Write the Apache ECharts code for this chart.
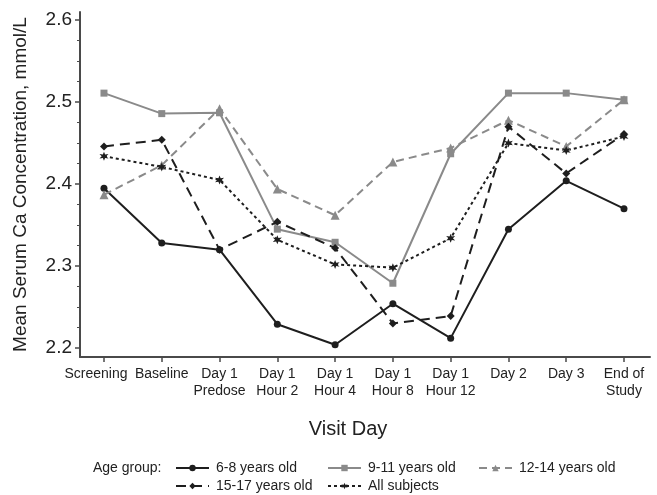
<!DOCTYPE html>
<html>
<head>
<meta charset="utf-8">
<script src="https://cdn.jsdelivr.net/npm/echarts@6/dist/echarts.min.js"></script>
<style>
  html, body { margin: 0; padding: 0; background: #fff; }
  #chart { width: 657px; height: 495px; }
</style>
</head>
<body>
<div id="chart"></div>
<script>
  // visit days (x categories)
  var visitDays = ['Screening', 'Baseline', 'Day 1\nPredose', 'Day 1\nHour 2', 'Day 1\nHour 4',
    'Day 1\nHour 8', 'Day 1\nHour 12', 'Day 2', 'Day 3', 'End of\nStudy']
  // mean serum Ca, mmol/L, per age group
  var age6to8 = [2.395, 2.328, 2.320, 2.229, 2.204, 2.254, 2.212, 2.345, 2.404, 2.370]
  var age9to11 = [2.511, 2.486, 2.487, 2.345, 2.329, 2.279, 2.437, 2.511, 2.511, 2.503]
  var age12to14 = [2.387, 2.423, 2.492, 2.394, 2.362, 2.427, 2.444, 2.478, 2.446, 2.503]
  var age15to17 = [2.446, 2.454, 2.320, 2.354, 2.322, 2.230, 2.239, 2.470, 2.413, 2.461]
  var allSubjects = [2.434, 2.421, 2.405, 2.332, 2.302, 2.298, 2.334, 2.450, 2.441, 2.458]
  var yTicks = [2.2, 2.3, 2.4, 2.5, 2.6]
  var yMinorTicks = [2.225, 2.25, 2.275, 2.325, 2.35, 2.375, 2.425, 2.45, 2.475, 2.525, 2.55, 2.575]

  var black = '#1e1e1e'
  var grey = '#8a8a8a'
  var axisColor = '#4a4a4a'
  var font = 'Liberation Sans, Arial, sans-serif'
  var starPath = 'path://M0,-10L2.2,-3.8L8.7,-5L4.4,0L8.7,5L2.2,3.8L0,10L-2.2,3.8L-8.7,5L-4.4,0L-8.7,-5L-2.2,-3.8Z'

  function pts (arr) {
    return arr.map(function (v, i) { return [i, v] })
  }

  var xIdx = visitDays.map(function (d, i) { return i })
  // labels split over two axes so the tight neighbours are not dropped
  var xEven = xIdx.filter(function (i) { return i % 2 === 0 })
  var xOdd = xIdx.filter(function (i) { return i % 2 === 1 })

  function lineSeries (name, data, color, type, symbol, size) {
    return {
      name: name,
      type: 'line',
      data: pts(data),
      symbol: symbol,
      symbolSize: size,
      lineStyle: { color: color, width: 2, type: type },
      itemStyle: { color: color },
      emphasis: { disabled: true }
    }
  }

  function legendAt (name, left, top) {
    return {
      data: [name],
      left: left,
      top: top,
      itemWidth: 33,
      itemHeight: 8,
      itemGap: 0,
      padding: 0,
      textStyle: { fontSize: 14, color: '#222', fontFamily: font, padding: [0, 0, 0, 2] }
    }
  }

  function xLabels (values) {
    return {
      customValues: values,
      hideOverlap: false,
      showMinLabel: true,
      showMaxLabel: true,
      margin: 9,
      fontSize: 14,
      lineHeight: 17,
      color: '#222',
      fontFamily: font,
      formatter: function (v) {
        var i = Math.round(v)
        // the first label sits a little left of its tick in the original
        return i === 0 ? '{first|' + visitDays[i] + '}' : visitDays[i]
      },
      rich: {
        first: { fontSize: 14, color: '#222', fontFamily: font, padding: [0, 16, 0, 0] }
      }
    }
  }

  var option = {
    animation: false,
    backgroundColor: '#fff',
    grid: { left: 80, right: 7, top: 12, bottom: 138 },
    xAxis: [{
      type: 'value',
      min: -0.415,
      max: 9.45,
      axisLine: { onZero: false, lineStyle: { color: axisColor, width: 2 } },
      axisTick: { customValues: xIdx, length: 5, lineStyle: { color: axisColor, width: 1.5 } },
      axisLabel: xLabels(xEven),
      splitLine: { show: false }
    }, {
      type: 'value',
      position: 'bottom',
      offset: 0,
      min: -0.415,
      max: 9.45,
      axisLine: { show: false, onZero: false },
      axisTick: { show: false },
      axisLabel: xLabels(xOdd),
      splitLine: { show: false }
    }],
    yAxis: [{
      type: 'value',
      min: 2.189,
      max: 2.61,
      name: 'Mean Serum Ca Concentration, mmol/L',
      nameLocation: 'middle',
      nameGap: 50,
      nameTextStyle: { fontSize: 19, color: '#222', fontFamily: font },
      axisLine: { show: true, onZero: false, lineStyle: { color: axisColor, width: 2 } },
      axisTick: { show: true, customValues: yTicks, length: 5, lineStyle: { color: axisColor, width: 1.5 } },
      axisLabel: { customValues: yTicks, margin: 8, fontSize: 19, color: '#222', fontFamily: font, formatter: function (v) { return v.toFixed(1) } },
      splitLine: { show: false }
    }, {
      type: 'value',
      position: 'left',
      offset: 0,
      min: 2.189,
      max: 2.61,
      axisLine: { show: false, onZero: false },
      axisTick: { show: true, customValues: yMinorTicks, length: 3, lineStyle: { color: axisColor, width: 1 } },
      axisLabel: { show: false },
      splitLine: { show: false }
    }],
    legend: [
      legendAt('6-8 years old', 175, 461),
      legendAt('9-11 years old', 327, 461),
      legendAt('12-14 years old', 478, 461),
      legendAt('15-17 years old', 175, 479),
      legendAt('All subjects', 327, 479)
    ],
    graphic: [{
      type: 'text',
      left: 93,
      top: 461,
      style: { text: 'Age group:', fontSize: 14, fill: '#222', fontFamily: font }
    }, {
      type: 'text',
      x: 348,
      y: 429,
      style: { text: 'Visit Day', fontSize: 20, fill: '#222', fontFamily: font, align: 'center', verticalAlign: 'middle' }
    }],
    series: [
      lineSeries('6-8 years old', age6to8, black, 'solid', 'circle', 7),
      lineSeries('9-11 years old', age9to11, grey, 'solid', 'rect', 7),
      lineSeries('12-14 years old', age12to14, grey, [8, 5], 'triangle', 9),
      lineSeries('15-17 years old', age15to17, black, [10, 6], 'diamond', 8),
      lineSeries('All subjects', allSubjects, black, [3, 3], starPath, 9)
    ]
  }

  var chart = echarts.init(document.getElementById('chart'))
  chart.setOption(option)
  window.addEventListener('resize', function () {
    chart.resize()
  })
</script>
</body>
</html>
